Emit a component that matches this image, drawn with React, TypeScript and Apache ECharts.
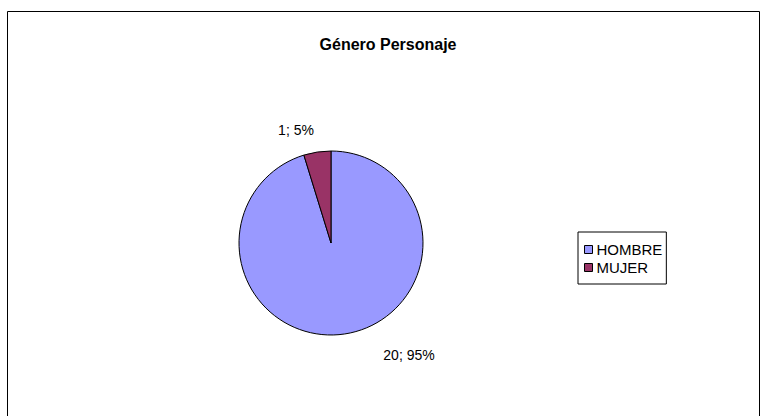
import React, { useEffect, useRef } from "react";
import * as echarts from "echarts";

const title = "Género Personaje";
const categories = ["HOMBRE", "MUJER"];
const values = [20, 1];
const colors = ["#9999FF", "#993366"];

export default function App() {
  const ref = useRef<HTMLDivElement>(null);
  useEffect(() => {
    document.body.style.margin = "0";
    const chart = echarts.init(ref.current!, null, { renderer: "svg" });
    const labelPos = [
      [409, 355],
      [296, 130],
    ];
    chart.setOption({
      animation: false,
      backgroundColor: "#ffffff",
      textStyle: { fontFamily: "Liberation Sans, Arial, sans-serif" },
      title: {
        text: title,
        left: 383,
        top: 31,
        textAlign: "center",
        textStyle: { fontSize: 16, fontWeight: "bold", color: "#000" },
      },
      graphic: [
        {
          type: "rect",
          shape: { x: 7.5, y: 11.5, width: 752, height: 420 },
          style: { fill: "none", stroke: "#000", lineWidth: 1 },
          silent: true,
        },
      ],
      legend: {
        orient: "vertical",
        left: 578,
        top: 232,
        borderColor: "#000",
        borderWidth: 1,
        padding: [10, 4, 9, 6],
        itemGap: 3,
        icon: "rect",
        itemWidth: 8,
        itemHeight: 8,
        itemStyle: { borderColor: "#000", borderWidth: 1 },
        textStyle: { fontSize: 15, lineHeight: 14, color: "#000", padding: [0, 0, 0, -1] },
        data: categories,
      },
      series: [
        {
          type: "pie",
          center: [331, 243],
          radius: 92,
          startAngle: 90,
          clockwise: true,
          itemStyle: { borderColor: "#000", borderWidth: 1 },
          label: {
            show: true,
            position: "outside",
            formatter: (p: any) => `${p.value}; ${Math.round(p.percent)}%`,
            fontSize: 14,
            color: "#000",
          },
          labelLine: { show: false },
          labelLayout: (p: any) => ({
            x: labelPos[p.dataIndex][0],
            y: labelPos[p.dataIndex][1],
            align: "center",
            verticalAlign: "middle",
          }),
          data: categories.map((c, i) => ({
            name: c,
            value: values[i],
            itemStyle: { color: colors[i] },
          })),
        },
      ],
    });
    return () => chart.dispose();
  }, []);
  return <div ref={ref} style={{ width: 767, height: 416 }} />;
}
